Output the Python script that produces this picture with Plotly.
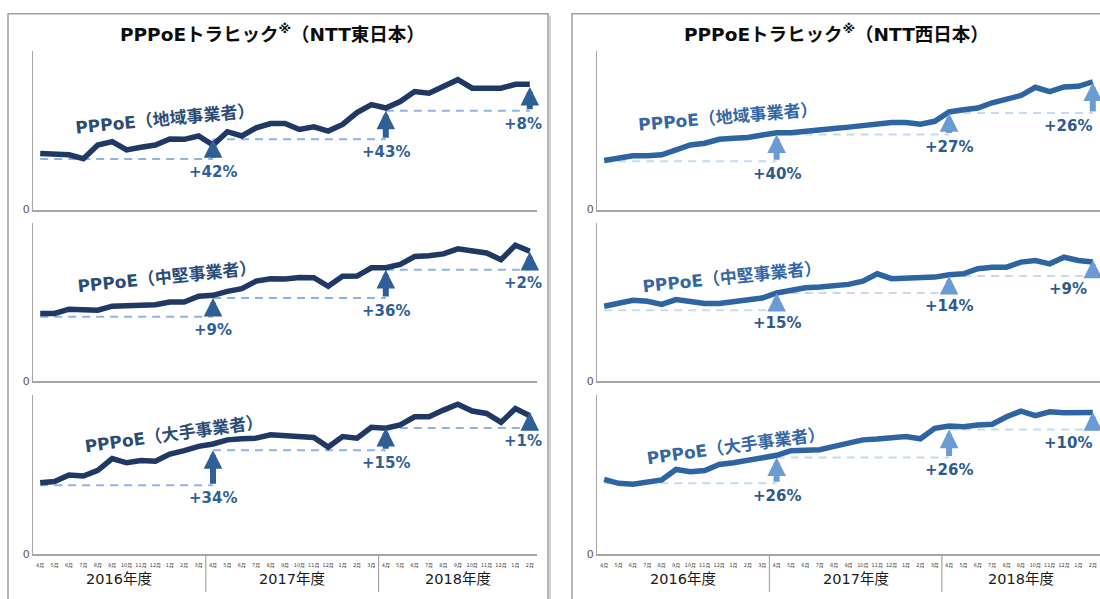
import plotly.graph_objects as go

# ---------------- data ----------------
months = (["4月", "5月", "6月", "7月", "8月", "9月", "10月", "11月", "12月", "1月", "2月", "3月"] * 2
          + ["4月", "5月", "6月", "7月", "8月", "9月", "10月", "11月", "12月", "1月", "2月"])
years = ["2016年度", "2017年度", "2018年度"]
year_centers = [5.5, 17.5, 29.0]
year_breaks = [11.5, 23.5]

# NTT東日本 (relative traffic level, axis 0..100)
east_chiiki = [35.4, 35.4, 34.6, 32.1, 40.8, 42.9, 37.7, 39.4, 40.8, 44.6, 44.4, 46.5,
               40.8, 49.2, 46.5, 51.7, 54.4, 54.4, 50.6, 52.3, 49.6, 53.8, 61.3, 66.3,
               64.2, 68.3, 74.6, 73.5, 77.9, 82.1, 76.7, 76.7, 76.7, 79.2, 79.2]
east_chuken = [43.0, 43.0, 45.7, 45.7, 45.1, 47.6, 48.0, 48.4, 48.6, 50.3, 50.3, 53.9,
               54.5, 57.0, 58.7, 63.5, 65.0, 64.8, 65.8, 65.6, 60.2, 66.5, 66.7, 71.9,
               71.9, 74.0, 79.0, 79.5, 80.7, 83.9, 82.4, 81.3, 77.0, 86.2, 82.4]
east_ote = [45.1, 45.8, 49.9, 49.3, 52.8, 60.2, 57.6, 59.0, 58.6, 63.1, 65.2, 67.9,
            69.4, 72.0, 72.7, 73.1, 75.2, 74.7, 74.3, 73.5, 67.5, 74.1, 73.1, 79.9,
            79.3, 81.4, 86.5, 86.5, 90.7, 94.4, 90.1, 88.6, 83.0, 91.7, 87.2]

# NTT西日本
west_chiiki = [31.0, 32.9, 34.0, 34.0, 34.6, 37.7, 40.8, 41.9, 44.4, 45.0, 45.6, 47.1,
               48.5, 48.5, 49.6, 50.8, 51.3, 52.1, 53.3, 54.2, 55.0, 55.0, 54.0, 55.8,
               61.7, 63.1, 64.2, 67.5, 70.0, 72.1, 77.3, 74.6, 77.5, 77.9, 80.8]
west_chuken = [47.6, 49.3, 51.4, 50.7, 48.8, 51.8, 50.3, 49.3, 49.3, 50.7, 52.0, 52.8,
               56.0, 57.7, 59.3, 59.7, 60.8, 61.4, 63.5, 68.1, 65.0, 65.4, 65.8, 66.0,
               67.5, 68.1, 71.3, 72.3, 72.3, 75.5, 76.5, 74.4, 78.6, 76.5, 75.5]
west_ote = [47.2, 44.7, 44.1, 45.5, 46.8, 53.4, 52.0, 52.8, 56.5, 57.6, 59.0, 60.7,
            62.3, 65.2, 65.2, 65.8, 67.9, 70.0, 72.0, 72.5, 73.1, 74.1, 72.7, 79.3,
            80.7, 80.3, 81.4, 81.8, 86.5, 90.1, 87.2, 89.6, 89.0, 89.2, 89.2]

# comparison levels (base of each year, latest)
east_chiiki_lv = [32.0, 44.5, 62.5, 77.5]
east_chuken_lv = [40.9, 52.8, 70.6, 82.0]
east_ote_lv = [43.5, 65.5, 79.5, 89.5]
west_chiiki_lv = [30.6, 47.5, 61.0, 80.4]
west_chuken_lv = [45.1, 56.0, 66.7, 77.0]
west_ote_lv = [44.7, 61.0, 78.5, 89.5]

# growth labels
east_chiiki_pct = ["+42%", "+43%", "+8%"]
east_chuken_pct = ["+9%", "+36%", "+2%"]
east_ote_pct = ["+34%", "+15%", "+1%"]
west_chiiki_pct = ["+40%", "+27%", "+26%"]
west_chuken_pct = ["+15%", "+14%", "+9%"]
west_ote_pct = ["+26%", "+26%", "+10%"]

compare_months = [0, 12, 24, 34]

series_names = ["PPPoE（地域事業者）", "PPPoE（中堅事業者）", "PPPoE（大手事業者）"]
titles = ["PPPoEトラヒック<sup>※</sup>（NTT東日本）", "PPPoEトラヒック<sup>※</sup>（NTT西日本）"]

# ---------------- layout helpers ----------------
W, H = 1100, 599
FONT = "DejaVu Sans, Noto Sans CJK JP, sans-serif"


def px_x(p):
    return p / W


def px_y(p):
    return 1 - p / H


col_x = [(33, 537), (597, 1100)]
row_y = [(52, 212), (226, 386), (400, 561)]

styles = [
    dict(line="#203864", arrow="#2F5F97", dash="#8EB4E3", pct="#2F5F97", label="#2B4C77", last_shift=-7),
    dict(line="#2E64A1", arrow="#6A9BD3", dash="#C6D9F0", pct="#2E5A8C", label="#3467A3", last_shift=-25),
]
label_pos = [
    [(8.7, 57.0), (8.8, 66.3), (9.3, 75.5)],
    [(8.6, 58.4), (8.9, 66.3), (9.2, 68.3)],
]
label_angle = [[-5.5, -6, -8], [-5, -6, -8]]

panels = [
    [(east_chiiki, east_chiiki_lv, east_chiiki_pct),
     (east_chuken, east_chuken_lv, east_chuken_pct),
     (east_ote, east_ote_lv, east_ote_pct)],
    [(west_chiiki, west_chiiki_lv, west_chiiki_pct),
     (west_chuken, west_chuken_lv, west_chuken_pct),
     (west_ote, west_ote_lv, west_ote_pct)],
]

fig = go.Figure()
annotations = []
shapes = []
layout_axes = {}
xidx = list(range(len(months)))

for c in range(2):
    st = styles[c]
    for r in range(3):
        n = c * 3 + r + 1
        xa = "x" if n == 1 else f"x{n}"
        ya = "y" if n == 1 else f"y{n}"
        xkey = "xaxis" if n == 1 else f"xaxis{n}"
        ykey = "yaxis" if n == 1 else f"yaxis{n}"
        vals, lv, pct = panels[c][r]
        bottom = (r == 2)

        xaxis = dict(
            domain=[px_x(col_x[c][0]), min(1.0, px_x(col_x[c][1]))],
            anchor=ya, range=[-0.5, len(months) - 0.5], showgrid=False, zeroline=False,
            showline=True, linecolor="#A6A6A6", linewidth=1.5, ticks="",
        )
        if bottom:
            xaxis.update(tickmode="array", tickvals=xidx, ticktext=months, showticklabels=True,
                         tickfont=dict(size=5, color="#404040", family=FONT),
                         tickangle=0, ticklabelstandoff=5)
        else:
            xaxis.update(showticklabels=False)
        layout_axes[xkey] = xaxis
        layout_axes[ykey] = dict(
            domain=[px_y(row_y[r][1]), px_y(row_y[r][0])],
            anchor=xa, range=[0, 100], showgrid=False, zeroline=False,
            showline=True, linecolor="#A6A6A6", linewidth=1,
            tickmode="array", tickvals=[0], ticktext=["0"], ticks="",
            tickfont=dict(size=11, color="#595959", family=FONT),
        )

        # dashed comparison lines
        for k in range(3):
            fig.add_trace(go.Scatter(
                x=[compare_months[k], compare_months[k + 1]], y=[lv[k], lv[k]],
                xaxis=xa, yaxis=ya, mode="lines",
                line=dict(color=st["dash"], width=2, dash="8px,6px"),
                hoverinfo="skip", showlegend=False))

        # main series
        fig.add_trace(go.Scatter(
            x=xidx, y=vals, xaxis=xa, yaxis=ya, mode="lines",
            line=dict(color=st["line"], width=5.5), showlegend=False))

        # arrows and growth labels
        for k in range(3):
            m = compare_months[k + 1]
            annotations.append(dict(
                xref=xa, yref=ya, axref=xa, ayref=ya, x=m, y=lv[k + 1], ax=m, ay=lv[k],
                text="", showarrow=True, arrowhead=2,
                arrowwidth=6, arrowsize=0.62, arrowcolor=st["arrow"], standoff=0))
            annotations.append(dict(
                xref=xa, yref=ya, x=m, y=lv[k], text=f"<b>{pct[k]}</b>", showarrow=False,
                xanchor="center", yanchor="middle",
                yshift=-13, xshift=(st["last_shift"] if k == 2 else 0),
                font=dict(size=15, color=st["pct"], family=FONT)))

        # series label
        lx, ly = label_pos[c][r]
        annotations.append(dict(
            xref=xa, yref=ya, x=lx, y=ly, text=f"<b>{series_names[r]}</b>", showarrow=False,
            xanchor="center", yanchor="middle",
            textangle=label_angle[c][r], font=dict(size=17, color=st["label"], family=FONT)))

    # bottom axis year labels and separators
    nb = c * 3 + 3
    xb = f"x{nb}"
    for yl, xc in zip(years, year_centers):
        annotations.append(dict(xref=xb, yref="paper", x=xc, y=px_y(586), text=yl,
                                xanchor="center", yanchor="middle",
                                showarrow=False, font=dict(size=14.5, color="#1A1A1A", family=FONT)))
    for b in year_breaks:
        shapes.append(dict(type="line", xref=xb, yref="paper", x0=b, x1=b,
                           y0=px_y(561), y1=px_y(599), line=dict(color="#A6A6A6", width=1.2)))

    # panel frame (with a light shadow on the right) and title
    fx0 = 8 + c * 564
    shapes.append(dict(type="line", xref="paper", yref="paper", x0=px_x(fx0 + 542), x1=px_x(fx0 + 542),
                       y0=-0.05, y1=px_y(16), line=dict(color="#D0D0D0", width=2), layer="below"))
    shapes.append(dict(type="rect", xref="paper", yref="paper", x0=px_x(fx0), x1=px_x(fx0 + 540),
                       y0=-0.05, y1=px_y(14), line=dict(color="#A0A0A0", width=1.5),
                       fillcolor="rgba(0,0,0,0)", layer="below"))
    annotations.append(dict(xref="paper", yref="paper", x=px_x(fx0 + 264), y=px_y(33),
                            xanchor="center", yanchor="middle",
                            text=f"<b>{titles[c]}</b>", showarrow=False,
                            font=dict(size=18.5, color="#0D0D0D", family=FONT)))

fig.update_layout(
    width=W, height=H, margin=dict(l=0, r=0, t=0, b=0),
    paper_bgcolor="white", plot_bgcolor="white",
    showlegend=False, annotations=annotations, shapes=shapes,
    **layout_axes,
)

fig.write_html("out.html", config={"displayModeBar": False},
               post_script="document.body.style.margin='0';document.body.style.overflow='hidden';")
